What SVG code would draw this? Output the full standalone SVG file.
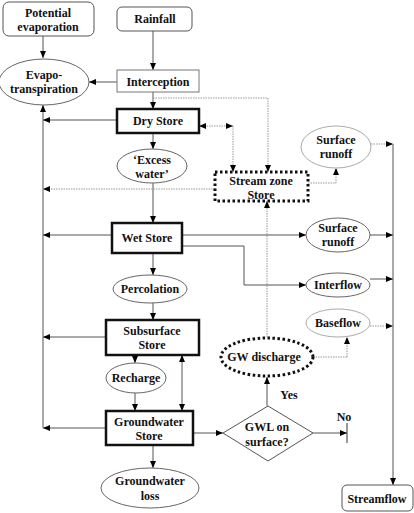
<svg xmlns="http://www.w3.org/2000/svg" width="414" height="513" viewBox="0 0 414 513">
<defs>
<marker id="ah" markerUnits="userSpaceOnUse" markerWidth="7" markerHeight="6" refX="7" refY="3" orient="auto"><path d="M0,0 L7,3 L0,6 z" fill="#000"/></marker>
<marker id="ahs" markerUnits="userSpaceOnUse" markerWidth="7" markerHeight="6" refX="0" refY="3" orient="auto"><path d="M7,0 L0,3 L7,6 z" fill="#000"/></marker>
</defs>
<style>
text{font-family:"Liberation Serif","Times New Roman",serif;font-weight:bold;font-size:12px;fill:#111;text-anchor:middle}
.rr{fill:#fff;stroke:#555;stroke-width:1}
.bx{fill:#fff;stroke:#777;stroke-width:1}
.tk{fill:#fff;stroke:#111;stroke-width:2.5}
.dz{fill:#fff;stroke:#111;stroke-width:3;stroke-dasharray:2.5,2.5}
.el{fill:#fff;stroke:#666;stroke-width:1}
.lt{fill:#fff;stroke:#aaa;stroke-width:1}
.c{fill:none;stroke:#555;stroke-width:1;marker-end:url(#ah)}
.cn{fill:none;stroke:#555;stroke-width:1}
.d{fill:none;stroke:#999;stroke-width:1;stroke-dasharray:1.5,1;marker-end:url(#ah)}
.dn{fill:none;stroke:#999;stroke-width:1;stroke-dasharray:1.5,1}
</style>
<g id="connectors">
<path class="c" d="M43,36 V58"/>
<path class="c" d="M153,31 V70"/>
<path class="c" d="M117,82 H89"/>
<path class="c" d="M153,92 V109"/>
<path class="dn" d="M153,98 H268"/>
<path class="d" d="M268,98 V172"/>
<path class="d" d="M233,126 H199" style="marker-start:url(#ahs)"/>
<path class="d" d="M233,126 V172"/>
<path class="c" d="M117,120 H43"/>
<path class="c" d="M153,133 V149"/>
<path class="c" d="M153,183 V223"/>
<path class="d" d="M215,189 H43"/>
<path class="dn" d="M308,183 H336"/>
<path class="d" d="M336,183 V168"/>
<path class="d" d="M371,144 H393"/>
<path class="d" d="M267,337 V201"/>
<path class="c" d="M112,235 H43"/>
<path class="c" d="M182,235 H306"/>
<path class="c" d="M370,235 H393"/>
<path class="cn" d="M182,246 H244 V285"/>
<path class="c" d="M244,285 H306"/>
<path class="c" d="M370,279 H393"/>
<path class="c" d="M153,253 V275"/>
<path class="c" d="M153,303 V320"/>
<path class="c" d="M106,337 H43"/>
<path class="c" d="M135,355 V363"/>
<path class="c" d="M182,355 V411" style="marker-start:url(#ahs)"/>
<path class="c" d="M135,393 V411"/>
<path class="c" d="M106,428 H43"/>
<path class="c" d="M43,428 V105"/>
<path class="c" d="M193,433 H223"/>
<path class="c" d="M267,406 V377"/>
<path class="c" d="M313,433 H347"/>
<path class="cn" d="M347,423 V443" style="stroke:#333"/>
<path class="dn" d="M313,357 H347"/>
<path class="d" d="M347,357 V337"/>
<path class="d" d="M370,326 H393"/>
<path class="c" d="M393,144 V485"/>
<path class="c" d="M153,445 V468"/>
</g>
<g id="potential-evaporation"><rect class="rr" x="3" y="2" width="91" height="34" rx="6"/><text x="48" y="17">Potential</text><text x="48" y="31">evaporation</text></g>
<g id="rainfall"><rect class="rr" x="117" y="7" width="75" height="24" rx="5"/><text x="155" y="23">Rainfall</text></g>
<g id="evapotranspiration"><ellipse class="el" cx="44" cy="82" rx="45" ry="23"/><text x="44" y="79">Evapo-</text><text x="44" y="93">transpiration</text></g>
<g id="interception"><rect class="bx" x="117" y="70" width="82" height="22"/><text x="158" y="86">Interception</text></g>
<g id="dry-store"><rect class="tk" x="117" y="109" width="82" height="24"/><text x="158" y="125">Dry Store</text></g>
<g id="excess-water"><ellipse class="el" cx="152" cy="166" rx="35" ry="17"/><text x="152" y="164">‘Excess</text><text x="152" y="178">water’</text></g>
<g id="stream-zone-store"><rect class="dz" x="215" y="172" width="93" height="29"/><text x="261" y="185">Stream zone</text><text x="261" y="199">Store</text></g>
<g id="surface-runoff-1"><ellipse class="lt" cx="336" cy="147" rx="35" ry="21"/><text x="336" y="144">Surface</text><text x="336" y="158">runoff</text></g>
<g id="wet-store"><rect class="tk" x="112" y="223" width="70" height="30"/><text x="147" y="242">Wet Store</text></g>
<g id="surface-runoff-2"><ellipse class="el" cx="338" cy="235" rx="32" ry="17"/><text x="338" y="232">Surface</text><text x="338" y="246">runoff</text></g>
<g id="interflow"><ellipse class="el" cx="338" cy="285" rx="32" ry="12"/><text x="338" y="289">Interflow</text></g>
<g id="percolation"><ellipse class="el" cx="150" cy="289" rx="37" ry="14"/><text x="150" y="293">Percolation</text></g>
<g id="baseflow"><ellipse class="lt" cx="338" cy="323" rx="32" ry="14"/><text x="338" y="327">Baseflow</text></g>
<g id="subsurface-store"><rect class="tk" x="106" y="320" width="93" height="35"/><text x="152" y="335">Subsurface</text><text x="152" y="349">Store</text></g>
<g id="gw-discharge"><ellipse class="dz" cx="267" cy="357" rx="46" ry="19"/><text x="264" y="361">GW discharge</text></g>
<g id="recharge"><ellipse class="el" cx="136" cy="378" rx="30" ry="15"/><text x="136" y="382">Recharge</text></g>
<g id="groundwater-store"><rect class="tk" x="106" y="411" width="87" height="34"/><text x="149" y="426">Groundwater</text><text x="149" y="440">Store</text></g>
<g id="gwl-on-surface"><polygon points="223,433 268,406 313,433 268,461" fill="#fff" stroke="#555" stroke-width="1"/><text x="267" y="431">GWL on</text><text x="267" y="446">surface?</text></g>
<g id="labels"><text x="289" y="399">Yes</text><text x="344" y="421">No</text></g>
<g id="groundwater-loss"><ellipse class="el" cx="150" cy="488" rx="49" ry="20"/><text x="150" y="485">Groundwater</text><text x="150" y="500">loss</text></g>
<g id="streamflow"><rect class="rr" x="342" y="485" width="71" height="26" rx="5"/><text x="377" y="503">Streamflow</text></g>
</svg>
